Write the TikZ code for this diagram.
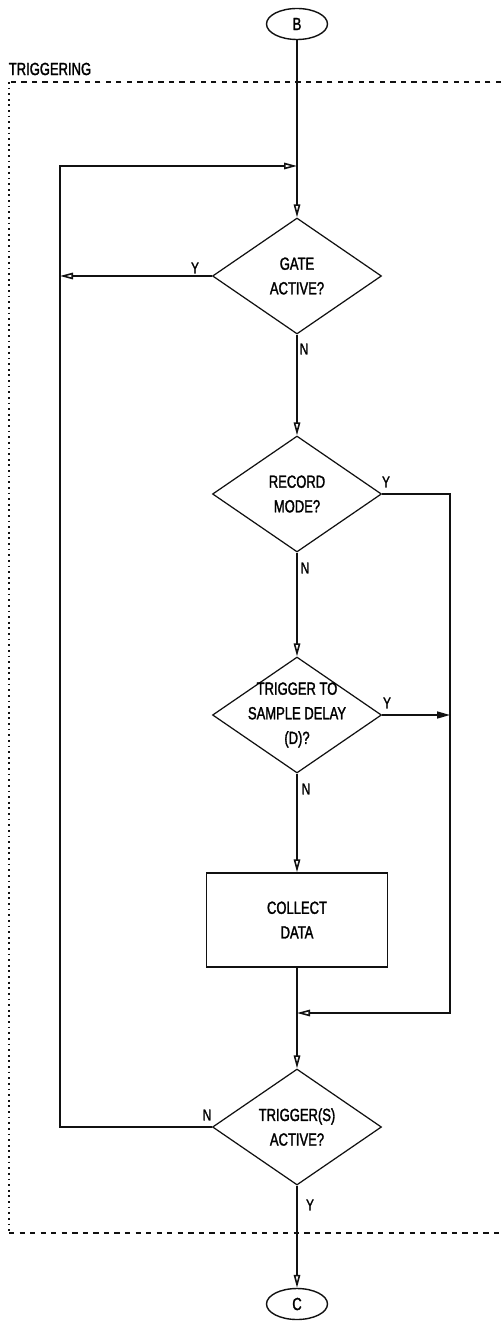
\documentclass[tikz,border=0pt]{standalone}
\usepackage{fontspec}
\setmainfont{Liberation Sans}[FakeStretch=0.74, FakeBold=1.6]
\usepackage{xcolor}
\definecolor{ink}{HTML}{111111}
\usetikzlibrary{arrows.meta,positioning,shapes.geometric}

\begin{document}
\begin{tikzpicture}[>={Triangle[open, length=2.6mm, width=1.3mm]},
		line width=0.9pt, draw=ink, font=\fontsize{10}{14}\selectfont,
		decision/.style={diamond, draw=ink, line width=0.7pt, inner sep=-2.5mm, align=center,
			minimum width=3.38cm, minimum height=2.32cm, aspect=1.46},
		process/.style={rectangle, draw=ink, line width=0.8pt, align=center,
			minimum width=3.62cm, minimum height=1.88cm},
		connector/.style={ellipse, draw=ink, line width=0.8pt, inner sep=0pt,
			minimum width=1.22cm, minimum height=0.62cm},
		branch/.style={font=\fontsize{9}{10}\selectfont, inner sep=1pt},
		frame/.style={line width=0.8pt, dash pattern=on 3pt off 3pt}]

		% ---------- page, same proportions as the reference
		\useasboundingbox (0,0) rectangle (10.02,-26.48);

		% ---------- shared geometry
		\def\xm{5.94}   % main column
		\def\xl{1.2}    % return loop, left
		\def\xr{9.0}    % bypass, right

		% ================= dashed TRIGGERING frame =================
		\draw[frame] (10.02,-1.64) -- (0.18,-1.64);
		\draw[frame] (0.18,-24.66) -- (10.02,-24.66);
		\draw[line width=0.8pt, dash pattern=on 1pt off 2.2pt] (0.18,-1.64) -- (0.18,-24.66);
		\node[anchor=west, inner sep=0pt] (title) at (0.16,-1.38) {TRIGGERING};

		% ================= flow nodes =================
		\node[connector] (B) at (\xm,-0.48) {B};
		\node[decision] (gate) at (\xm,-5.52) {GATE\\ACTIVE?};
		\node[decision] (rec) at (\xm,-9.88) {RECORD\\MODE?};
		\node[decision] (trg) at (\xm,-14.3) {TRIGGER TO\\SAMPLE DELAY\\(D)?};
		\node[process] (coll) at (\xm,-18.4) {COLLECT\\DATA};
		\node[decision] (trgs) at (\xm,-22.54) {TRIGGER(S)\\ACTIVE?};
		\node[connector] (C) at (\xm,-26.08) {C};

		% bend points of the two side loops
		\coordinate (jt) at (\xm,-3.32);
		\coordinate (lt) at (\xl,-3.32);
		\coordinate (jm) at (\xm,-20.26);
		\coordinate (rr) at (\xr,-20.26);

		% ================= main column =================
		\draw[->] (B) -- (gate.north);
		\draw[->] (gate.south) -- (rec.north);
		\draw[->] (rec.south) -- (trg.north);
		\draw[->] (trg.south) -- (coll.north);
		\draw[->] (coll.south) -- (trgs.north);
		\draw[->] (trgs.south) -- (C);

		% ================= loops =================
		% N from TRIGGER(S) runs back up to the top of GATE
		\draw[->] (trgs.west) -| (lt) -- (jt);
		% Y from GATE joins the return line
		\draw[->] (gate.west) -- (gate.west -| lt);
		% Y from RECORD and from TRIGGER TO SAMPLE DELAY bypass COLLECT DATA
		\draw[->] (rec.east) -| (rr) -- (jm);
		\draw[-{Triangle[length=2.6mm, width=1.4mm]}] (trg.east) -- (trg.east -| rr);

		% ================= branch labels =================
		\node[branch] (gy) at (3.9,-5.36) {Y};
		\node[branch] (gn) at (6.08,-6.98) {N};
		\node[branch] (ry) at (7.72,-9.64) {Y};
		\node[branch] (rn) at (6.1,-11.36) {N};
		\node[branch] (ty) at (7.74,-14.06) {Y};
		\node[branch] (tn) at (6.12,-15.78) {N};
		\node[branch] (sn) at (4.14,-22.3) {N};
		\node[branch] (sy) at (6.2,-24.1) {Y};
	\end{tikzpicture}
\end{document}
